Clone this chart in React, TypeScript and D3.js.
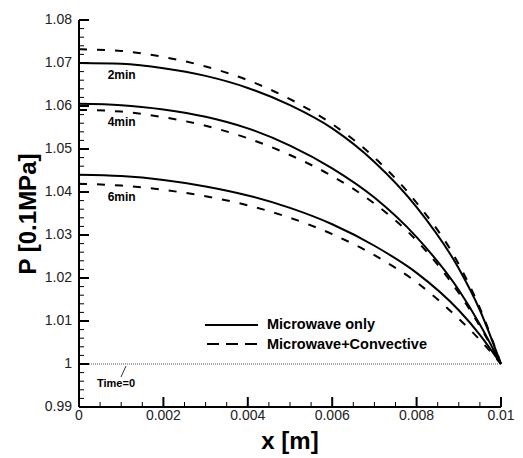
import React from 'react';
import * as d3 from 'd3';

// x positions [m]
const xs = [0, 0.001, 0.002, 0.003, 0.004, 0.005, 0.006, 0.007, 0.008, 0.009, 0.0095, 0.01];

// Microwave only (solid)
const solid2 = [1.0700, 1.0698, 1.0688, 1.0670, 1.0642, 1.0602, 1.0548, 1.0470, 1.0365, 1.0222, 1.0125, 1.0];
const solid4 = [1.0605, 1.0602, 1.0592, 1.0575, 1.0548, 1.0508, 1.0455, 1.0387, 1.0295, 1.0172, 1.0092, 1.0];
const solid6 = [1.0440, 1.0437, 1.0428, 1.0413, 1.0392, 1.0363, 1.0325, 1.0275, 1.0212, 1.0125, 1.0068, 1.0];

// Microwave+Convective (dashed)
const dash2 = [1.0732, 1.0728, 1.0714, 1.0692, 1.0660, 1.0616, 1.0558, 1.0480, 1.0375, 1.0232, 1.0130, 1.0];
const dash4 = [1.0591, 1.0587, 1.0574, 1.0554, 1.0525, 1.0486, 1.0437, 1.0373, 1.0287, 1.0165, 1.0088, 1.0];
const dash6 = [1.0419, 1.0415, 1.0405, 1.0390, 1.0369, 1.0340, 1.0302, 1.0253, 1.0190, 1.0105, 1.0056, 1.0];

const xTicks = [0, 0.002, 0.004, 0.006, 0.008, 0.01];
const yTicks = [0.99, 1, 1.01, 1.02, 1.03, 1.04, 1.05, 1.06, 1.07, 1.08];

const curveLabels = [
  { text: '2min', x: 0.00068, y: 1.0670 },
  { text: '4min', x: 0.00068, y: 1.0560 },
  { text: '6min', x: 0.00068, y: 1.0386 },
];

const W = 523;
const H = 458;

const App = () => {
  const x = d3.scaleLinear().domain([0, 0.01]).range([79, 501]);
  const y = d3.scaleLinear().domain([0.99, 1.08]).range([407, 20]);

  const line = d3.line<number>()
    .x((_, i) => x(xs[i]))
    .y(d => y(d))
    .curve(d3.curveMonotoneX);

  const xMinor = d3.range(0, 0.01 + 1e-9, 0.0005).filter(v => !xTicks.some(t => Math.abs(t - v) < 1e-9));
  const yMinor = d3.range(0.99, 1.08 + 1e-9, 0.002).filter(v => !yTicks.some(t => Math.abs(t - v) < 1e-9));

  const font = 'Arial, "Liberation Sans", Helvetica, sans-serif';

  return (
    <svg width={W} height={H} style={{ position: 'absolute', left: 0, top: 0, background: '#fff' }}
      fontFamily={font}>
      {/* time=0 line */}
      <line x1={x(0)} x2={x(0.01)} y1={y(1)} y2={y(1)} stroke="#555" strokeWidth={1} strokeDasharray="1,1" />

      {[solid2, solid4, solid6].map((s, i) => (
        <path key={'s' + i} d={line(s) || ''} fill="none" stroke="#000" strokeWidth={2} />
      ))}
      {[dash2, dash4, dash6].map((s, i) => (
        <path key={'d' + i} d={line(s) || ''} fill="none" stroke="#000" strokeWidth={2} strokeDasharray="8,10" />
      ))}

      {curveLabels.map(l => (
        <text key={l.text} x={x(l.x)} y={y(l.y)} fontSize={12} fontWeight="bold" dominantBaseline="middle">{l.text}</text>
      ))}

      {/* Time=0 annotation */}
      <line x1={126} y1={366} x2={121} y2={377} stroke="#000" strokeWidth={0.8} />
      <text x={97} y={384} fontSize={11} fontWeight="bold" dominantBaseline="middle">Time=0</text>

      {/* axes */}
      <line x1={x(0)} x2={x(0)} y1={y(1.08)} y2={y(0.99)} stroke="#000" strokeWidth={2} />
      <line x1={x(0)} x2={x(0.01)} y1={y(0.99)} y2={y(0.99)} stroke="#000" strokeWidth={2} />

      {yTicks.map(t => (
        <g key={'yt' + t}>
          <line x1={x(0)} x2={x(0) + 10} y1={y(t)} y2={y(t)} stroke="#000" strokeWidth={2} />
          <text x={72} y={y(t)} fontSize={14} textAnchor="end" dominantBaseline="middle" fill="#222">{d3.format('')(+t.toFixed(2))}</text>
        </g>
      ))}
      {yMinor.map(t => (
        <line key={'ym' + t} x1={x(0)} x2={x(0) + 5} y1={y(t)} y2={y(t)} stroke="#000" strokeWidth={1} />
      ))}
      {xTicks.map(t => (
        <g key={'xt' + t}>
          <line x1={x(t)} x2={x(t)} y1={y(0.99)} y2={y(0.99) - 10} stroke="#000" strokeWidth={2} />
          <text x={x(t)} y={416} fontSize={14} textAnchor="middle" dominantBaseline="middle" fill="#222">{d3.format('')(+t.toFixed(3))}</text>
        </g>
      ))}
      {xMinor.map(t => (
        <line key={'xm' + t} x1={x(t)} x2={x(t)} y1={y(0.99)} y2={y(0.99) - 5} stroke="#000" strokeWidth={1} />
      ))}

      {/* titles */}
      <text x={290} y={443} fontSize={24} fontWeight="bold" textAnchor="middle" dominantBaseline="middle">x [m]</text>
      <text transform="translate(30,214) rotate(-90)" fontSize={24} fontWeight="bold" textAnchor="middle" dominantBaseline="middle">P [0.1MPa]</text>

      {/* legend */}
      <line x1={205} x2={258} y1={325} y2={325} stroke="#000" strokeWidth={2} />
      <line x1={207} x2={258} y1={344} y2={344} stroke="#000" strokeWidth={2} strokeDasharray="12,7" />
      <text x={267} y={325} fontSize={14.5} fontWeight="bold" dominantBaseline="middle">Microwave only</text>
      <text x={267} y={345} fontSize={14.5} fontWeight="bold" dominantBaseline="middle">Microwave+Convective</text>
    </svg>
  );
};

export default App;
